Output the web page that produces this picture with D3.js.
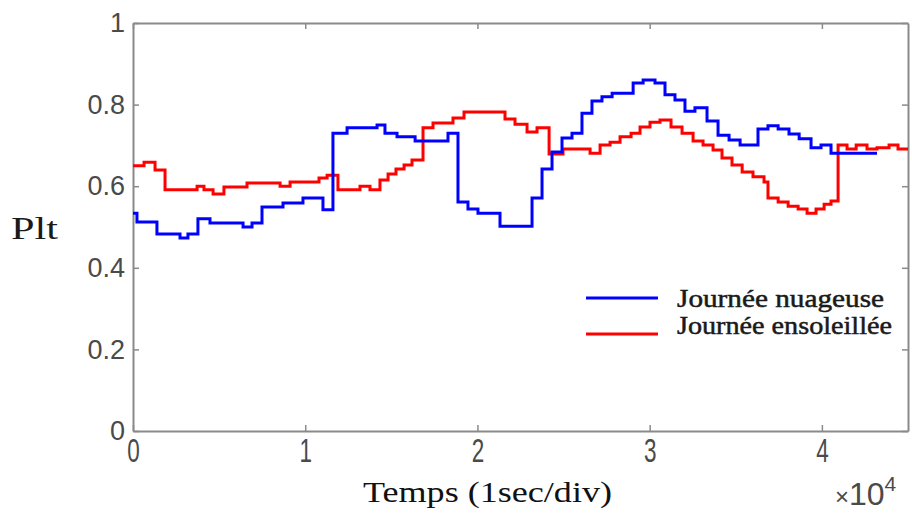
<!DOCTYPE html>
<html>
<head>
<meta charset="utf-8">
<script src="https://cdn.jsdelivr.net/npm/d3@7"></script>
<style>
  html, body { margin: 0; padding: 0; background: #fff; }
  svg { display: block; }
</style>
</head>
<body>
<svg id="chart" width="912" height="516"></svg>
<script>
// Plt (long-term flicker) over time, two days: cloudy vs sunny.
// Each series is a staircase: value holds from its time until the next time.
const cloudyTimes = [0, 230, 1390, 2730, 3190, 3770, 4470, 6390, 6910, 7490, 8710, 9870, 11030, 11610, 12430,
  14170, 14630, 15330, 16380, 18290, 18870, 19450, 20030, 21310, 23170, 23750, 24330, 24910, 25490, 26070,
  26650, 27230, 27820, 29040, 29620, 30310, 30890, 31470, 32050, 32630, 33330, 33970, 34610, 35250, 36290,
  36870, 37460, 38090, 38680, 39370, 39950, 40530, 43200];
const cloudyValues = [0.534, 0.512, 0.483, 0.473, 0.483, 0.520, 0.510, 0.500, 0.510, 0.549, 0.559, 0.571, 0.542, 0.730, 0.743,
  0.750, 0.730, 0.721, 0.711, 0.730, 0.561, 0.544, 0.534, 0.502, 0.571, 0.642, 0.684, 0.718, 0.730, 0.779,
  0.809, 0.819, 0.828, 0.853, 0.860, 0.853, 0.824, 0.811, 0.784, 0.792, 0.760, 0.725, 0.713, 0.701, 0.740,
  0.748, 0.740, 0.728, 0.716, 0.694, 0.701, 0.681, 0.681];

const sunnyTimes = [0, 640, 1280, 1860, 3720, 4120, 4650, 5280, 6620, 8540, 9120, 10800, 11270, 11900, 13180,
  13760, 14340, 14810, 15270, 15740, 16200, 16840, 17420, 18580, 19220, 21600, 22180, 22880, 23460, 24160,
  24970, 26540, 27120, 27700, 28280, 28920, 29440, 30020, 30600, 31240, 31880, 32520, 33100, 33680, 34200,
  34780, 35370, 36000, 36640, 36870, 37460, 38040, 38620, 39140, 39660, 40130, 40530, 40940, 41460, 41990,
  42620, 43200, 43900, 44420, 45000];
const sunnyValues = [0.650, 0.659, 0.640, 0.591, 0.600, 0.591, 0.581, 0.598, 0.608, 0.600, 0.610, 0.620, 0.627, 0.591, 0.600,
  0.591, 0.615, 0.630, 0.642, 0.652, 0.664, 0.743, 0.755, 0.767, 0.782, 0.765, 0.752, 0.733, 0.743, 0.679,
  0.691, 0.681, 0.701, 0.708, 0.721, 0.730, 0.745, 0.757, 0.762, 0.745, 0.730, 0.711, 0.701, 0.689, 0.669,
  0.652, 0.635, 0.623, 0.610, 0.571, 0.561, 0.551, 0.544, 0.534, 0.544, 0.556, 0.564, 0.701, 0.691, 0.701,
  0.691, 0.694, 0.701, 0.691, 0.691];

const xTicks = [0, 10000, 20000, 30000, 40000];
const yTicks = [0, 0.2, 0.4, 0.6, 0.8, 1];
const seriesNames = ["Journée nuageuse", "Journée ensoleillée"];
const seriesColors = ["#0000ff", "#ff0000"];

const svg = d3.select("#chart");
const plotLeft = 133, plotRight = 908, plotTop = 23, plotBottom = 431;

const x = d3.scaleLinear().domain([0, 45000]).range([plotLeft, plotRight]);
const y = d3.scaleLinear().domain([0, 1]).range([plotBottom, plotTop]);

const axisColor = "#8a8a8a";
const tickFont = "'Liberation Sans', Arial, sans-serif";
const serifFont = "'Liberation Serif', 'Times New Roman', serif";

// Frame with inward ticks on all four sides
function styleAxis(g) {
  g.select(".domain").attr("stroke", axisColor).attr("stroke-width", 2);
  g.selectAll(".tick line").attr("stroke", axisColor).attr("stroke-width", 1.5);
  g.selectAll(".tick text").attr("fill", "#4a4a4a").style("font-family", tickFont);
}

const yAxis = svg.append("g").attr("transform", `translate(${plotLeft},0)`)
  .call(d3.axisLeft(y).tickValues(yTicks).tickSizeInner(-6).tickSizeOuter(0).tickPadding(8)
    .tickFormat(d3.format("~g")));
styleAxis(yAxis);
yAxis.selectAll(".tick text").style("font-size", "27px");

const yAxisR = svg.append("g").attr("transform", `translate(${plotRight},0)`)
  .call(d3.axisRight(y).tickValues(yTicks).tickSizeInner(-6).tickSizeOuter(0).tickFormat(""));
styleAxis(yAxisR);

const xAxis = svg.append("g").attr("transform", `translate(0,${plotBottom})`)
  .call(d3.axisBottom(x).tickValues(xTicks).tickSizeInner(-6).tickSizeOuter(0)
    .tickFormat(d => d / 10000));
styleAxis(xAxis);
// tall, narrow digits under the x axis
xAxis.selectAll(".tick text")
  .attr("y", 0).attr("dy", null)
  .style("font-size", "25px")
  .attr("transform", "translate(0,31) scale(0.9,1.3)");

const xAxisT = svg.append("g").attr("transform", `translate(0,${plotTop})`)
  .call(d3.axisTop(x).tickValues(xTicks).tickSizeInner(-6).tickSizeOuter(0).tickFormat(""));
styleAxis(xAxisT);

// Staircase lines
const line = d3.line()
  .x(d => x(d[0]))
  .y(d => y(d[1]))
  .curve(d3.curveStepAfter);

const series = [
  d3.zip(cloudyTimes, cloudyValues),
  d3.zip(sunnyTimes, sunnyValues)
];

// sunny first so the cloudy line sits on top where they meet
[1, 0].forEach(i => {
  svg.append("path")
    .datum(series[i])
    .attr("d", line)
    .attr("fill", "none")
    .attr("stroke", seriesColors[i])
    .attr("stroke-width", 3)
    .attr("stroke-linejoin", "miter");
});

// Legend
const legend = svg.append("g");
const legendRows = [298, 334];
const legendWidths = [207, 215];
seriesNames.forEach((name, i) => {
  legend.append("line")
    .attr("x1", 586).attr("x2", 658)
    .attr("y1", legendRows[i]).attr("y2", legendRows[i])
    .attr("stroke", seriesColors[i]).attr("stroke-width", 3);
  legend.append("text")
    .attr("x", 677).attr("y", legendRows[i] + (i === 0 ? 9 : 0))
    .attr("fill", "#1a1a1a")
    .attr("stroke", "#1a1a1a")
    .attr("stroke-width", 0.5)
    .attr("textLength", legendWidths[i])
    .attr("lengthAdjust", "spacingAndGlyphs")
    .style("font-family", serifFont)
    .style("font-size", "25px")
    .text(name);
});

// Axis titles
svg.append("text")
  .attr("x", 363).attr("y", 502)
  .attr("fill", "#111")
  .attr("textLength", 249)
  .attr("lengthAdjust", "spacingAndGlyphs")
  .style("font-family", serifFont)
  .style("font-size", "30px")
  .text("Temps (1sec/div)");

svg.append("text")
  .attr("x", 11).attr("y", 239)
  .attr("fill", "#1a1a1a")
  .attr("textLength", 47)
  .attr("lengthAdjust", "spacingAndGlyphs")
  .style("font-family", serifFont)
  .style("font-size", "31px")
  .text("Plt");

// Exponent note for the x axis
const expo = svg.append("text")
  .attr("fill", "#4a4a4a")
  .style("font-family", tickFont)
  .attr("transform", "translate(835,505)");
expo.append("tspan").style("font-size", "24px").text("×");
expo.append("tspan").style("font-size", "32px").text("10");
expo.append("tspan").attr("dy", -14).style("font-size", "21px").text("4");
</script>
</body>
</html>
